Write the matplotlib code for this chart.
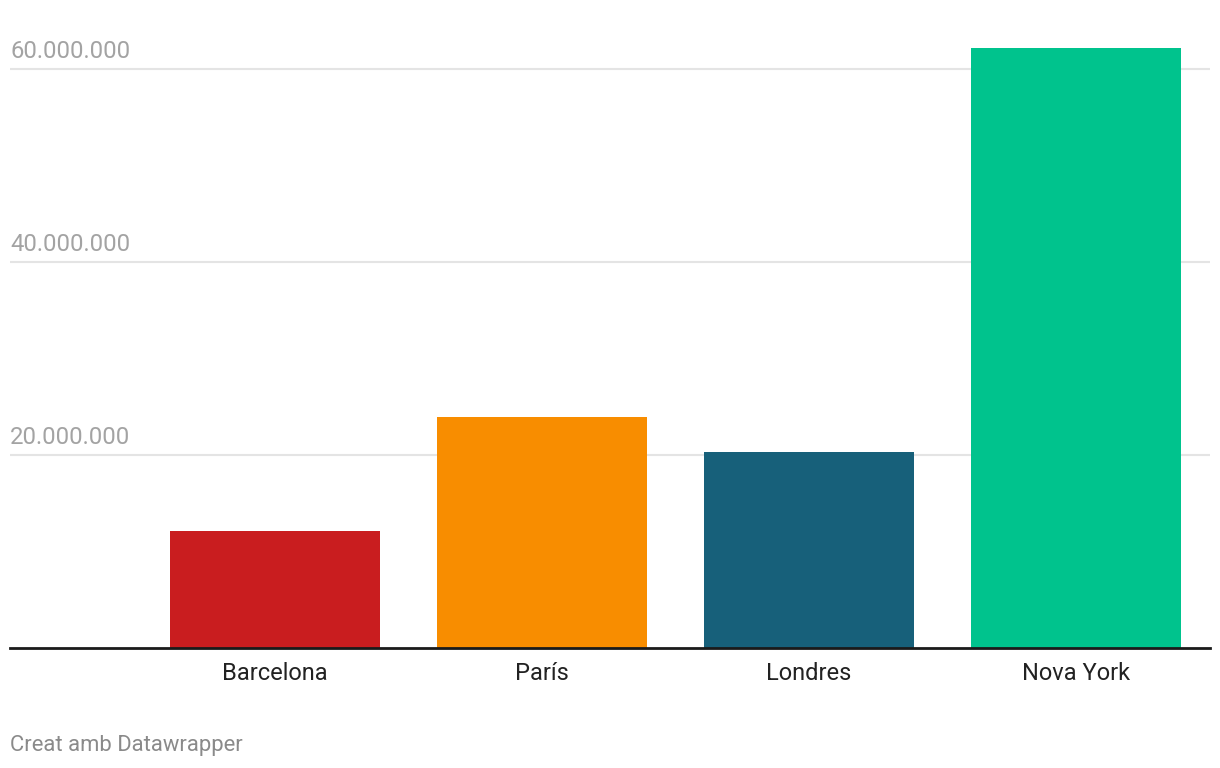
import matplotlib
matplotlib.use("Agg")
import matplotlib.pyplot as plt
from matplotlib.transforms import blended_transform_factory

categories = ["Barcelona", "París", "Londres", "Nova York"]
values = [12.09e6, 23.9e6, 20.27e6, 62.13e6]
colors = ["#c91d1f", "#f88d00", "#17607a", "#00c38d"]
yticks = [20e6, 40e6, 60e6]
ytick_labels = ["20.000.000", "40.000.000", "60.000.000"]
credit = "Creat amb Datawrapper"

plt.rcParams['font.family'] = ['Roboto', 'DejaVu Sans']

W, H = 1220, 768
fig = plt.figure(figsize=(W / 100, H / 100), dpi=100)
base_px = 647.7
px_per_m = 9.653
ymax = 66e6
top_px = base_px - ymax / 1e6 * px_per_m
ax = fig.add_axes([10 / W, (H - base_px) / H, 1200 / W, (base_px - top_px) / H])

x = list(range(len(categories)))
ax.bar(x, values, width=0.7865, color=colors, zorder=3)
ax.set_xlim(-0.9925, 3.502)
ax.set_ylim(0, ymax)

for s in ax.spines.values():
    s.set_visible(False)
ax.axhline(0, color="#1a1a1a", lw=2, zorder=4, clip_on=False)
for t in yticks:
    ax.axhline(t, color="#e4e4e4", lw=1.5, zorder=1)

trans = blended_transform_factory(ax.transAxes, ax.transData)
for t, lab in zip(yticks, ytick_labels):
    ax.text(0, t + 0.55e6, lab, transform=trans, ha="left", va="bottom",
            fontsize=17.2, color="#a3a3a3")

ax.set_yticks([])
ax.set_xticks(x)
ax.set_xticklabels(categories, fontsize=17, color="#222222")
ax.tick_params(axis="x", length=0, pad=10)

fig.text(10 / W, 1 - 745 / H, credit, ha="left", va="center", fontsize=15.8, color="#8a8a8a")

fig.savefig("out.png", dpi=100, facecolor="white")
